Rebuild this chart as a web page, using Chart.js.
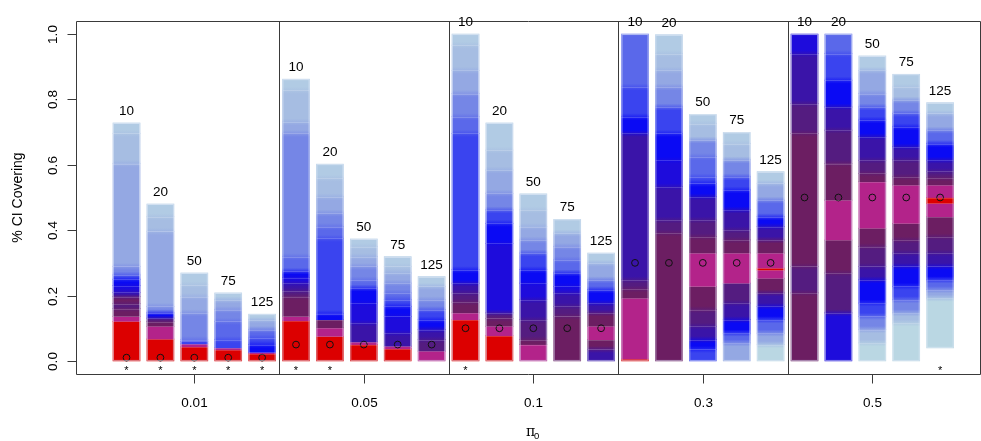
<!DOCTYPE html>
<html>
<head>
<meta charset="utf-8">
<script src="https://cdn.jsdelivr.net/npm/chart.js@4/dist/chart.umd.min.js"></script>
<style>
  html, body { margin: 0; padding: 0; background: #ffffff; }
  #wrap { width: 981px; height: 441px; }
</style>
</head>
<body>
<div id="wrap"><canvas id="c" width="981" height="441"></canvas></div>
<script>
// ---------------- DATA ----------------
const piLabels = ["0.01", "0.05", "0.1", "0.3", "0.5"];
const piValues = [0.01, 0.05, 0.1, 0.3, 0.5];
const nLabels = ["10", "20", "50", "75", "125"];
const yTickValues = [0, 0.2, 0.4, 0.6, 0.8, 1.0];
const yTickLabels = ["0.0", "0.2", "0.4", "0.6", "0.8", "1.0"];

// bottom of each bar (25 bars: 5 pi0 groups x 5 sample sizes)
const barBase = [0,0,0,0,0, 0,0,0,0,0, 0,0,0,0,0, 0,0,0,0,0, 0,0,0,0,0.04];
// bar marked with an asterisk below it
const starred = [1,1,1,1,1, 1,1,0,0,0, 1,0,0,0,0, 0,0,0,0,0, 0,0,0,0,1];

// upper edge of every coloured layer, bottom to top
const segTops = [
  [0.121,0.136,0.160,0.175,0.197,0.210,0.230,0.250,0.263,0.289,0.604,0.696,0.728],
  [0.067,0.106,0.120,0.131,0.147,0.167,0.396,0.441,0.480],
  [0.043,0.052,0.060,0.065,0.147,0.197,0.233,0.269],
  [0.034,0.040,0.065,0.121,0.157,0.187,0.208],
  [0.022,0.026,0.050,0.070,0.096,0.126,0.143],

  [0.123,0.136,0.197,0.215,0.238,0.255,0.274,0.319,0.696,0.731,0.828,0.862],
  [0.075,0.101,0.126,0.145,0.375,0.411,0.452,0.502,0.559,0.602],
  [0.050,0.058,0.116,0.177,0.223,0.248,0.289,0.319,0.350,0.373],
  [0.037,0.045,0.085,0.136,0.167,0.187,0.208,0.238,0.269,0.289,0.319],
  [0.030,0.065,0.096,0.126,0.157,0.187,0.228,0.258],

  [0.126,0.147,0.180,0.208,0.238,0.279,0.696,0.747,0.818,0.889,0.966,1.000],
  [0.077,0.106,0.130,0.147,0.360,0.421,0.462,0.513,0.584,0.645,0.728],
  [0.050,0.065,0.126,0.187,0.238,0.279,0.330,0.370,0.411,0.462,0.511],
  [0.136,0.167,0.208,0.228,0.269,0.309,0.350,0.391,0.433],
  [0.035,0.065,0.106,0.147,0.177,0.218,0.248,0.299,0.330],

  [0.006,0.192,0.220,0.248,0.696,0.747,0.838,1.000],
  [0.391,0.431,0.533,0.614,0.696,0.777,0.838,0.889,0.940,0.998],
  [0.035,0.065,0.106,0.157,0.228,0.330,0.380,0.431,0.502,0.543,0.563,0.625,0.676,0.726,0.754],
  [0.055,0.085,0.126,0.177,0.238,0.330,0.370,0.401,0.462,0.523,0.563,0.615,0.665,0.699],
  [0.050,0.085,0.126,0.167,0.208,0.253,0.278,0.284,0.330,0.370,0.411,0.441,0.492,0.543,0.579],

  [0.208,0.289,0.696,0.787,0.940,1.000],
  [0.147,0.269,0.370,0.492,0.604,0.706,0.777,0.859,0.940,1.000],
  [0.055,0.096,0.136,0.177,0.248,0.289,0.350,0.406,0.548,0.574,0.614,0.686,0.737,0.777,0.818,0.889,0.933],
  [0.116,0.147,0.187,0.228,0.289,0.330,0.370,0.421,0.538,0.563,0.615,0.655,0.716,0.757,0.798,0.838,0.877],
  [0.192,0.218,0.248,0.289,0.330,0.380,0.441,0.482,0.500,0.538,0.560,0.580,0.614,0.665,0.706,0.757,0.790]
];

// colour level of every layer (0 = red ... 13 = palest blue)
const segLevels = [
  [0,1,2,3,2,4,5,6,7,9,10,11,12],
  [0,1,2,3,6,9,10,11,12],
  [0,1,7,8,9,10,11,12],
  [0,1,7,8,9,10,12],
  [0,1,6,7,8,10,12],

  [0,1,2,3,4,5,6,8,9,10,11,12],
  [0,1,2,6,7,8,9,10,11,12],
  [0,1,4,5,6,8,9,10,11,12],
  [0,1,4,5,6,7,8,9,10,11,12],
  [1,3,4,6,7,9,10,12],

  [0,1,2,3,4,6,7,8,9,10,11,12],
  [0,1,2,3,5,6,7,9,10,11,12],
  [1,2,3,4,5,6,7,9,10,11,12],
  [2,3,4,5,6,8,9,10,12],
  [4,2,1,2,4,6,8,10,12],

  [0,1,2,3,4,6,7,8],
  [2,3,4,5,6,7,9,10,11,12],
  [7,6,4,3,2,1,2,3,4,6,7,8,9,11,12],
  [10,8,6,4,3,1,2,3,4,6,7,9,11,12],
  [13,10,8,6,4,2,1,0,1,2,4,6,8,10,12],

  [2,3,2,3,4,5],
  [5,3,2,1,2,3,4,6,7,8],
  [13,11,9,7,6,4,3,2,1,2,3,4,6,7,9,10,12],
  [13,11,9,7,6,4,3,2,1,2,3,4,6,7,9,11,12],
  [13,10,8,6,4,3,2,1,0,1,2,3,4,6,8,10,12]
];

// ---------------- STYLE ----------------
const palette = ["#dc0000","#b3238a","#6c1e62","#541c80","#3a14a8","#1e0cdc","#0a0af4",
                 "#3a44ef","#5a68ea","#7586e6","#94a8e3","#a6bde2","#b1cbe4","#bad7e3"];
const FONT = '"Liberation Sans", Arial, Helvetica, sans-serif';

function hexRgb(h) { return [1, 3, 5].map(k => parseInt(h.substr(k, 2), 16)); }
function mix(a, b, t) {
  const A = hexRgb(a), B = hexRgb(b);
  return 'rgb(' + A.map((v, k) => Math.round(v + (B[k] - v) * t)).join(',') + ')';
}
function soft(l1, l2) { return l1 >= 2 && l2 >= 2 && Math.abs(l1 - l2) <= 3; }

// ---------------- BUILD ----------------
const nPer = nLabels.length;
const segData = [], segInfo = [];
segTops.forEach((tops, i) => {
  let lo = barBase[i];
  const lv = segLevels[i];
  tops.forEach((hi, k) => {
    segData.push({ x: i, y: [lo, hi] });
    segInfo.push({ lo, hi, level: lv[k], prev: k > 0 ? lv[k - 1] : null, next: k < lv.length - 1 ? lv[k + 1] : null });
    lo = hi;
  });
});
const circleData = [];
piValues.forEach((p, g) => { for (let j = 0; j < nPer; j++) circleData.push({ x: g * nPer + j, y: p }); });

function segFill(c) {
  if (c.type !== 'data') return '#888';
  const s = segInfo[c.dataIndex];
  const own = palette[s.level];
  const ys = c.chart.scales.y;
  if (!ys) return own;
  const below = (s.prev !== null && soft(s.prev, s.level)) ? mix(palette[s.prev], own, 0.5) : own;
  const above = (s.next !== null && soft(s.next, s.level)) ? mix(own, palette[s.next], 0.5) : own;
  if (below === own && above === own) return own;
  const y0 = ys.getPixelForValue(s.lo), y1 = ys.getPixelForValue(s.hi);
  const h = Math.max(1, y0 - y1);
  const f = Math.min(0.5, 3.5 / h);
  const g = c.chart.ctx.createLinearGradient(0, y0, 0, y1);
  g.addColorStop(0, below); g.addColorStop(f, own); g.addColorStop(1 - f, own); g.addColorStop(1, above);
  return g;
}

const decor = {
  id: 'decor',
  afterDatasetsDraw(chart) {
    const { ctx, chartArea: a, scales: { x, y } } = chart;
    const line = (x1, y1, x2, y2) => { ctx.beginPath(); ctx.moveTo(x1, y1); ctx.lineTo(x2, y2); ctx.stroke(); };
    ctx.save();
    // faint separators and light bar edges
    const meta = chart.getDatasetMeta(1);
    ctx.strokeStyle = 'rgba(255,255,255,0.18)';
    meta.data.forEach(el => {
      const yy = Math.round(el.y) + 0.5;
      line(el.x - el.width / 2, yy, el.x + el.width / 2, yy);
    });
    ctx.strokeStyle = 'rgba(225,235,248,0.55)';
    segTops.forEach((tops, i) => {
      const px = x.getPixelForValue(i);
      const t = y.getPixelForValue(tops[tops.length - 1]), b = y.getPixelForValue(barBase[i]);
      ctx.strokeRect(px - 13, t + 0.5, 26, b - t - 1);
    });
    ctx.strokeStyle = '#3a3a3a';
    ctx.lineWidth = 1;
    const L = Math.round(a.left) + 0.5, T = Math.round(a.top) + 0.5;
    const R = Math.round(a.right) - 0.5, B = Math.round(a.bottom) + 0.5;
    line(L, T, R, T); line(L, B, R, B); line(L, T, L, B); line(R, T, R, B);
    for (let g = 1; g < piLabels.length; g++) {
      const px = Math.round(x.getPixelForValue(g * nPer - 0.5)) + 0.5;
      line(px, T, px, B);
    }
    // y axis
    ctx.fillStyle = '#000';
    ctx.font = '13.5px ' + FONT;
    yTickValues.forEach((v, k) => {
      const py = Math.round(y.getPixelForValue(v)) + 0.5;
      line(L - 9, py, L, py);
      ctx.save();
      ctx.translate(56.5, py);
      ctx.rotate(-Math.PI / 2);
      ctx.textAlign = 'center';
      ctx.textBaseline = 'alphabetic';
      ctx.fillText(yTickLabels[k], 0, 0);
      ctx.restore();
    });
    ctx.save();
    ctx.font = '14px ' + FONT;
    ctx.translate(22, (y.getPixelForValue(0) + y.getPixelForValue(1)) / 2);
    ctx.rotate(-Math.PI / 2);
    ctx.textAlign = 'center';
    ctx.fillText('% CI Covering', 0, 0);
    ctx.restore();
    // x axis
    ctx.textAlign = 'center';
    ctx.textBaseline = 'alphabetic';
    ctx.font = '13.5px ' + FONT;
    piLabels.forEach((lab, g) => {
      const px = Math.round(x.getPixelForValue(g * nPer + (nPer - 1) / 2)) + 0.5;
      line(px, B, px, B + 9);
      ctx.fillText(lab, px, 406.5);
    });
    // axis title pi_0
    ctx.font = '14px "DejaVu Serif", serif';
    ctx.textAlign = 'left';
    ctx.fillText('\u03c0', 526, 436);
    ctx.font = '9.5px ' + FONT;
    ctx.fillText('0', 534, 439);
    // sample-size labels and asterisks
    ctx.textAlign = 'center';
    segTops.forEach((tops, i) => {
      const px = x.getPixelForValue(i);
      const top = y.getPixelForValue(tops[tops.length - 1]);
      ctx.font = '13.5px ' + FONT;
      ctx.fillText(nLabels[i % nPer], px, top - 8);
      if (starred[i]) {
        ctx.font = '11px ' + FONT;
        ctx.fillText('*', px, 374);
      }
    });
    ctx.restore();
  }
};

new Chart(document.getElementById('c'), {
  type: 'bar',
  data: {
    datasets: [
      {
        type: 'scatter',
        data: circleData,
        pointStyle: 'circle',
        pointRadius: 3.4,
        pointBorderWidth: 1,
        pointBorderColor: '#111',
        pointBackgroundColor: 'rgba(0,0,0,0)',
        showLine: false,
        order: 0
      },
      {
        type: 'bar',
        data: segData,
        backgroundColor: segFill,
        borderWidth: 0,
        barThickness: 27,
        grouped: false,
        order: 1
      }
    ]
  },
  options: {
    responsive: false,
    animation: false,
    events: [],
    layout: { autoPadding: false, padding: { left: 76, right: 0, top: 21, bottom: 67 } },
    plugins: { legend: { display: false }, tooltip: { enabled: false } },
    scales: {
      x: { type: 'linear', offset: false, min: -1.49, max: 25.206, display: false },
      y: { type: 'linear', min: -0.04, max: 1.04, display: false }
    }
  },
  plugins: [decor]
});
</script>
</body>
</html>
